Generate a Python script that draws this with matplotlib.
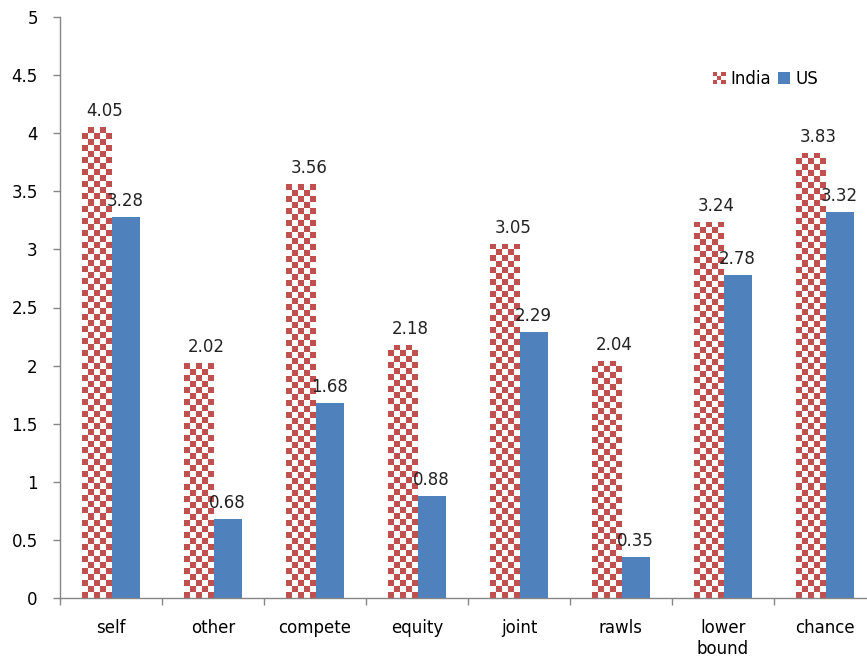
import numpy as np
import matplotlib.pyplot as plt
from matplotlib.patches import Rectangle
from matplotlib.legend_handler import HandlerBase

categories = ['self', 'other', 'compete', 'equity', 'joint', 'rawls', 'lower\nbound', 'chance']
india = [4.05, 2.02, 3.56, 2.18, 3.05, 2.04, 3.24, 3.83]
us = [3.28, 0.68, 1.68, 0.88, 2.29, 0.35, 2.78, 3.32]
yticks = [0, 0.5, 1, 1.5, 2, 2.5, 3, 3.5, 4, 4.5, 5]

red = '#C0504D'
blue = '#4F81BD'
grey = '#868686'

W, H = 867, 664
fig = plt.figure(figsize=(W / 100, H / 100), dpi=100)
ax = fig.add_axes([60 / W, 66 / H, 816 / W, 581 / H])

x = np.arange(len(categories))
bw = 0.285
cell = 6.0  # checker square size in pixels

px_x = 816 / len(categories)
px_y = 581 / 5.0

india_bars = ax.bar(x - bw / 2, india, bw, color='white', edgecolor='none', zorder=2)
ax.bar(x + bw / 2, us, bw, color=blue, edgecolor='none', zorder=2)

# checkerboard fill for the India bars
for b in india_bars:
    x0, w, h = b.get_x(), b.get_width(), b.get_height()
    nx = max(1, int(round(w * px_x / cell)))
    ny = max(1, int(round(h * px_y / cell)))
    ii, jj = np.indices((ny, nx))
    board = ((ii + jj) % 2 == 0)
    img = np.ones((ny, nx, 3))
    img[board] = [0xC0 / 255, 0x50 / 255, 0x4D / 255]
    im = ax.imshow(img, extent=[x0, x0 + w, 0, h], origin='lower',
                   interpolation='nearest', aspect='auto', zorder=2.5)
    im.set_clip_path(b)

for xi, v in zip(x, india):
    ax.text(xi - bw / 2 + 0.08, v + 0.06, f'{v:.2f}', ha='center', va='bottom',
            fontsize=12, color='#222222', zorder=4)
for xi, v in zip(x, us):
    ax.text(xi + bw / 2, v + 0.06, f'{v:.2f}', ha='center', va='bottom',
            fontsize=12, color='#222222', zorder=4)

ax.set_xlim(-0.5, len(categories) - 0.5)
ax.set_ylim(0, 5)
ax.set_aspect('auto')

ax.set_yticks(yticks)
ax.set_yticklabels([f'{t:g}' for t in yticks])
ax.set_xticks(x)
ax.set_xticklabels(categories, fontsize=12, linespacing=1.25)
ax.set_xticks(np.arange(len(categories)) - 0.5, minor=True)
ax.tick_params(axis='x', which='major', length=0, pad=15)
ax.tick_params(axis='x', which='minor', length=5, color=grey, width=1)
ax.tick_params(axis='y', length=5, color=grey, width=1, labelsize=12, pad=11)

for s in ['top', 'right']:
    ax.spines[s].set_visible(False)
for s in ['left', 'bottom']:
    ax.spines[s].set_color(grey)
    ax.spines[s].set_linewidth(1)


class CheckerHandler(HandlerBase):
    def create_artists(self, legend, orig_handle, xdescent, ydescent,
                       width, height, fontsize, trans):
        arts = []
        n = 3
        cw, ch = width / n, height / n
        for i in range(n):
            for j in range(n):
                if (i + j) % 2 == 0:
                    r = Rectangle((-xdescent + j * cw, -ydescent + i * ch), cw, ch,
                                  facecolor=red, edgecolor='none', transform=trans)
                    arts.append(r)
        return arts


india_handle = Rectangle((0, 0), 1, 1, facecolor='white')
us_handle = Rectangle((0, 0), 1, 1, facecolor=blue, edgecolor='none')
ax.legend([india_handle, us_handle], ['India', 'US'], ncol=2, frameon=False,
          loc='upper left', bbox_to_anchor=(0.782, 0.935), fontsize=12,
          handlelength=0.75, handleheight=0.75, handletextpad=0.3, columnspacing=0.4,
          handler_map={india_handle: CheckerHandler()})

fig.savefig('out.png', dpi=100)
